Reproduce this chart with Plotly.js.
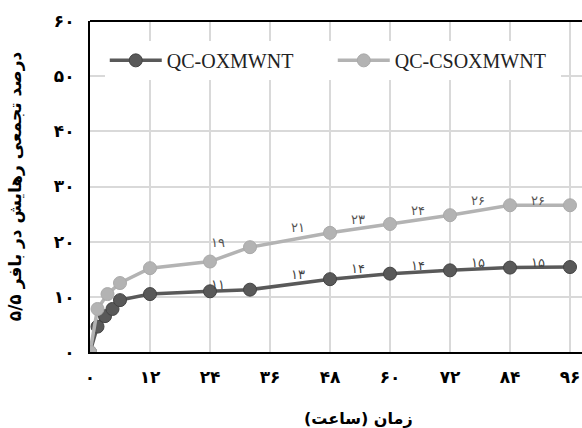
<!DOCTYPE html>
<html><head><meta charset="utf-8">
<script src="https://cdn.plot.ly/plotly-3.0.1.min.js"></script>
<style>html,body{margin:0;padding:0;background:#fff}</style>
</head><body><div id="chart" style="width:582px;height:428px"></div>
<script>
const seriesNames = ['QC-OXMWNT', 'QC-CSOXMWNT'];
const timeOX = [0, 1.5, 3, 4.5, 6, 12, 24, 32, 48, 60, 72, 84, 96];
const releaseOX = [0, 4.6, 6.5, 7.8, 9.4, 10.5, 11, 11.3, 13.2, 14.2, 14.8, 15.3, 15.4];
const timeCSOX = [0, 1.5, 3.5, 6, 12, 24, 32, 48, 60, 72, 84, 96];
const releaseCSOX = [0, 7.8, 10.5, 12.5, 15.2, 16.4, 19, 21.6, 23.2, 24.8, 26.6, 26.6];
// labelled points (x, value, label text)
const labelTimes = [32, 48, 60, 72, 84, 96];
const labelsOX = ['۱۱', '۱۳', '۱۴', '۱۴', '۱۵', '۱۵'];
const labelsCSOX = ['۱۹', '۲۱', '۲۳', '۲۴', '۲۶', '۲۶'];
const xTickVals = [0, 12, 24, 36, 48, 60, 72, 84, 96];
const xTickText = ['۰', '۱۲', '۲۴', '۳۶', '۴۸', '۶۰', '۷۲', '۸۴', '۹۶'];
const yTickVals = [0, 10, 20, 30, 40, 50, 60];
const yTickText = ['۰', '۱۰', '۲۰', '۳۰', '۴۰', '۵۰', '۶۰'];
const xTitle = 'زمان (ساعت)';
const yTitle = 'درصد تجمعی رهایش در بافر ۵/۵';

const darkC = '#595959', lightC = '#b3b3b3';
const traces = [
  {x: timeOX, y: releaseOX, name: seriesNames[0], mode: 'lines+markers',
   line: {color: darkC, width: 3.5}, marker: {color: darkC, size: 13, line: {color: '#444', width: 1}}},
  {x: timeCSOX, y: releaseCSOX, name: seriesNames[1], mode: 'lines+markers',
   line: {color: lightC, width: 3.5}, marker: {color: lightC, size: 13, line: {color: '#aaa', width: 1}}}
];

function valAt(xs, ys, t){ return ys[xs.indexOf(t)]; }
const annotations = [];
labelTimes.forEach((t, i) => {
  annotations.push({x: t, y: valAt(timeOX, releaseOX, t), text: labelsOX[i], showarrow: false,
    xshift: -32, yshift: 5, font: {family: 'DejaVu Sans', size: 13, color: '#444'}});
  annotations.push({x: t, y: valAt(timeCSOX, releaseCSOX, t), text: labelsCSOX[i], showarrow: false,
    xshift: -32, yshift: 5, font: {family: 'DejaVu Sans', size: 13, color: '#555'}});
});
annotations.push({xref: 'paper', yref: 'paper', x: 0.545, y: -0.2, yanchor: 'middle', xanchor: 'center',
  text: '<b>' + xTitle + '</b>', showarrow: false, font: {family: 'DejaVu Sans', size: 16, color: '#000'}});

const layout = {
  width: 582, height: 428,
  margin: {l: 90, r: 0, t: 21, b: 76},
  paper_bgcolor: '#fff', plot_bgcolor: '#fff',
  showlegend: true,
  legend: {orientation: 'h', x: 0.03, y: 0.94, xanchor: 'left', yanchor: 'top',
    bgcolor: '#fff', borderwidth: 0, itemwidth: 52, entrywidth: 161, entrywidthmode: 'pixels',
    font: {family: 'Liberation Serif', size: 20, color: '#222'}},
  xaxis: {range: [0, 98.4], tickvals: xTickVals, ticktext: xTickText, showgrid: true,
    gridcolor: '#d9d9d9', gridwidth: 2, zeroline: false, showline: true, linecolor: '#000', linewidth: 2,
    ticks: '', ticklabelstandoff: 9,
    tickfont: {family: 'DejaVu Sans', size: 17, color: '#000', weight: 'bold'}},
  yaxis: {range: [0, 60], tickvals: yTickVals, ticktext: yTickText, showgrid: true,
    gridcolor: '#d9d9d9', gridwidth: 2, zeroline: false, showline: true, linecolor: '#000', linewidth: 2,
    ticks: '', ticklabelstandoff: 10,
    tickfont: {family: 'DejaVu Sans', size: 17, color: '#000', weight: 'bold'},
    title: {text: '<b>' + yTitle + '</b>', standoff: 28, font: {family: 'DejaVu Sans', size: 17, color: '#000'}}},
  annotations: annotations,
  shapes: [{type: 'line', xref: 'paper', yref: 'paper', x0: 0, x1: 1, y0: 1, y1: 1, line: {color: '#000', width: 2}}]
};
Plotly.newPlot('chart', traces, layout, {displayModeBar: false, staticPlot: true});
</script></body></html>
